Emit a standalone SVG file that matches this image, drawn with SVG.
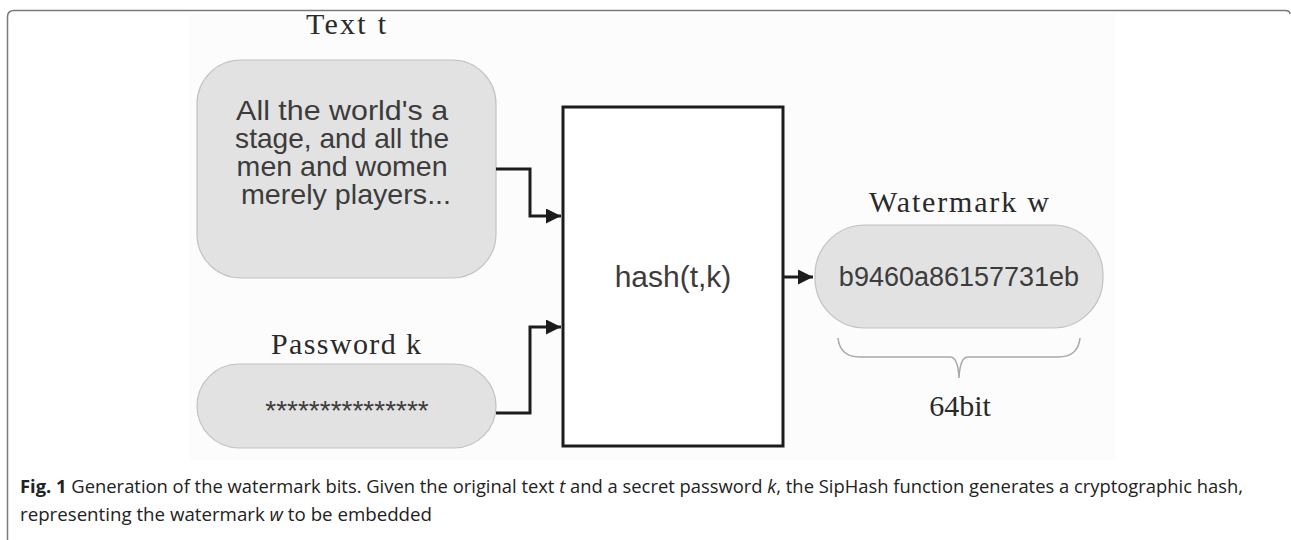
<svg xmlns="http://www.w3.org/2000/svg" width="1291" height="540" viewBox="0 0 1291 540">
<style>
.box{fill:#e2e2e2;stroke:#c2c2c2;stroke-width:1.2}
.sans{font-family:"Liberation Sans",Arial,sans-serif;fill:#3c3c3c}
.serif{font-family:"Liberation Serif","Times New Roman",serif;fill:#2a2a2a;font-size:30px}
.conn{fill:none;stroke:#1c1c1c;stroke-width:3}
.cap{font-family:"Open Sans","Noto Sans",sans-serif;font-size:18px;fill:#222}
</style>
<defs>
<marker id="arr" viewBox="0 0 10 10" refX="10" refY="5" markerWidth="5" markerHeight="5" markerUnits="strokeWidth" orient="auto">
<path d="M0,0 L10,5 L0,10 z" fill="#1c1c1c"/>
</marker>
</defs>
<rect width="1291" height="540" fill="#ffffff"/>
<rect x="190" y="14" width="925" height="446" fill="#fcfcfc"/>
<path d="M7.5,540 V17 Q7.5,10.5 14,10.5 H1285 Q1290,10.5 1290,14" fill="none" stroke="#7a7a7a" stroke-width="1.5"/>

<g id="text-node">
<text class="serif" x="346" y="34" text-anchor="middle" textLength="80">Text t</text>
<rect class="box" x="197" y="60" width="299" height="218" rx="44"/>
<text class="sans" font-size="28" text-anchor="middle">
<tspan x="346" y="120" textLength="212" lengthAdjust="spacingAndGlyphs">All the world's a</tspan>
<tspan x="346" y="148" textLength="214" lengthAdjust="spacingAndGlyphs">stage, and all the</tspan>
<tspan x="346" y="176" textLength="211" lengthAdjust="spacingAndGlyphs">men and women</tspan>
<tspan x="346" y="204" textLength="210" lengthAdjust="spacingAndGlyphs">merely players...</tspan>
</text>
</g>

<g id="password-node">
<text class="serif" x="346" y="354" text-anchor="middle" textLength="150">Password k</text>
<rect class="box" x="197" y="364" width="299" height="84" rx="42"/>
<text class="sans" x="347" y="420" font-size="28" text-anchor="middle">***************</text>
</g>

<g id="hash-node">
<rect x="563" y="107" width="220" height="339" fill="#ffffff" stroke="#1c1c1c" stroke-width="3"/>
<text class="sans" x="673" y="287" font-size="30" text-anchor="middle">hash(t,k)</text>
</g>

<g id="watermark-node">
<text class="serif" x="959" y="212" text-anchor="middle" textLength="180">Watermark w</text>
<rect class="box" x="815" y="225" width="288" height="103" rx="50"/>
<text class="sans" x="959" y="286" font-size="27" text-anchor="middle">b9460a86157731eb</text>
<path d="M838,338 Q840,357 860,357 H950 Q958,357 959,378 Q960,357 968,357 H1058 Q1078,357 1080,338" fill="none" stroke="#a8a8a8" stroke-width="1.5"/>
<text class="serif" x="960" y="416" text-anchor="middle">64bit</text>
</g>

<g id="connectors">
<path class="conn" d="M496,169 H530 V216 H561" marker-end="url(#arr)"/>
<path class="conn" d="M496,413 H530 V327 H561" marker-end="url(#arr)"/>
<path class="conn" d="M783,277 H813" marker-end="url(#arr)"/>
</g>

<g id="caption">
<text class="cap" x="20" y="493" textLength="1223" lengthAdjust="spacingAndGlyphs"><tspan font-weight="bold">Fig. 1</tspan> Generation of the watermark bits. Given the original text <tspan font-style="italic">t</tspan> and a secret password <tspan font-style="italic">k</tspan>, the SipHash function generates a cryptographic hash,</text>
<text class="cap" x="20" y="521" textLength="412" lengthAdjust="spacingAndGlyphs">representing the watermark <tspan font-style="italic">w</tspan> to be embedded</text>
</g>
</svg>
